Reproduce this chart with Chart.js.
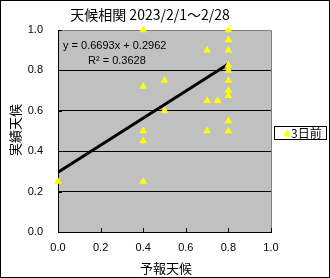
<!DOCTYPE html>
<html>
<head>
<meta charset="utf-8">
<script src="https://cdn.jsdelivr.net/npm/chart.js@4"></script>
<style>
  html, body { margin: 0; padding: 0; background: #fff; }
  canvas { display: block; }
</style>
</head>
<body>
<canvas id="chart" width="330" height="278"></canvas>
<script>
// 予報天候 (x) と 実績天候 (y)
const forecast = [0.0, 0.4, 0.4, 0.4, 0.4, 0.4, 0.5, 0.5, 0.7, 0.7, 0.7, 0.75,
                  0.8, 0.8, 0.8, 0.8, 0.8, 0.8, 0.8, 0.8, 0.8, 0.8];
const actual   = [0.25, 1.0, 0.72, 0.5, 0.45, 0.25, 0.75, 0.6, 0.9, 0.65, 0.5, 0.65,
                  1.0, 0.95, 0.9, 0.825, 0.8, 0.75, 0.7, 0.675, 0.55, 0.5];
const seriesLabel = "3日前";
const slope = 0.6693;
const intercept = 0.2962;
const rSquared = 0.3628;
const trendRange = [0, 0.8];
const axisTicks = [0, 0.2, 0.4, 0.6, 0.8, 1.0];
const chartTitle = "天候相関 2023/2/1～2/28";
const xTitle = "予報天候";
const yTitle = "実績天候";

const points = forecast.map((x, i) => ({ x: x, y: actual[i] }));
const trend = trendRange.map(x => ({ x: x, y: slope * x + intercept }));

const jp = '"Noto Sans CJK JP", sans-serif';
const num = '"Liberation Sans", Arial, sans-serif';

const decor = {
  id: "decor",
  beforeDraw(c) {
    const ctx = c.ctx, a = c.chartArea;
    ctx.save();
    ctx.fillStyle = "#fff";
    ctx.fillRect(0, 0, c.width, c.height);
    ctx.fillStyle = "#c0c0c0";
    ctx.fillRect(a.left, a.top, a.right - a.left, a.bottom - a.top);
    ctx.restore();
  },
  beforeDatasetsDraw(c) {
    const ctx = c.ctx, a = c.chartArea;
    ctx.save();
    // plot frame top/right
    ctx.strokeStyle = "#808080";
    ctx.lineWidth = 1;
    ctx.beginPath();
    ctx.moveTo(a.left, a.top + 0.5);
    ctx.lineTo(a.right + 0.5, a.top + 0.5);
    ctx.lineTo(a.right + 0.5, a.bottom);
    ctx.stroke();
    // inner tick marks
    ctx.strokeStyle = "#000";
    ctx.beginPath();
    axisTicks.forEach(v => {
      const px = Math.round(c.scales.x.getPixelForValue(v)) + 0.5;
      ctx.moveTo(px, a.bottom);
      ctx.lineTo(px, a.bottom - 4);
      const py = Math.round(c.scales.y.getPixelForValue(v)) + 0.5;
      ctx.moveTo(a.left, py);
      ctx.lineTo(a.left + 4, py);
    });
    ctx.stroke();
    ctx.restore();
  },
  afterDatasetsDraw(c) {
    const ctx = c.ctx;
    ctx.save();
    // equation text
    ctx.fillStyle = "#000";
    ctx.font = "11px " + num;
    ctx.textBaseline = "middle";
    ctx.textAlign = "left";
    ctx.fillText("y = " + slope.toFixed(4) + "x + " + intercept.toFixed(4), 63, 46);
    ctx.fillText("R² = " + rSquared.toFixed(4), 88, 61);

    // title
    ctx.font = "14px " + jp;
    ctx.textAlign = "center";
    ctx.fillText(chartTitle, 150, 15);
    // axis titles
    ctx.font = "13px " + jp;
    ctx.fillText(xTitle, 166, 268);
    ctx.translate(15, 130);
    ctx.rotate(-Math.PI / 2);
    ctx.fillText(yTitle, 0, 0);
    ctx.restore();

    // legend
    ctx.save();
    ctx.strokeStyle = "#000";
    ctx.lineWidth = 1;
    ctx.fillStyle = "#fff";
    ctx.fillRect(274.5, 126.5, 52, 13);
    ctx.strokeRect(274.5, 126.5, 52, 13);
    ctx.fillStyle = "#ffff00";
    ctx.beginPath();
    ctx.moveTo(287, 129.5);
    ctx.lineTo(291, 136.5);
    ctx.lineTo(283, 136.5);
    ctx.closePath();
    ctx.fill();
    ctx.fillStyle = "#000";
    ctx.font = "12px " + jp;
    ctx.textBaseline = "middle";
    ctx.textAlign = "left";
    ctx.fillText(seriesLabel, 291, 133.5);
    // outer border
    ctx.strokeRect(0.5, 0.5, c.width - 1, c.height - 1);
    ctx.restore();
  }
};

new Chart(document.getElementById("chart"), {
  type: "scatter",
  data: {
    datasets: [
      {
        label: seriesLabel,
        data: points,
        clip: false,
        pointStyle: "triangle",
        pointRadius: 4.5,
        pointBackgroundColor: "#ffff00",
        pointBorderColor: "#ffff00",
        pointBorderWidth: 0
      },
      {
        type: "line",
        label: "trend",
        data: trend,
        borderColor: "#000",
        borderWidth: 3,
        pointRadius: 0,
        fill: false
      }
    ]
  },
  options: {
    responsive: false,
    animation: false,
    devicePixelRatio: 1,
    layout: { padding: { left: 0, top: 30, right: 59, bottom: 0 } },
    plugins: { legend: { display: false }, tooltip: { enabled: false } },
    scales: {
      x: {
        type: "linear",
        min: 0, max: 1,
        afterFit: s => { s.height = 46; },
        afterBuildTicks: s => { s.ticks = axisTicks.map(v => ({ value: v })); },
        ticks: {
          color: "#000",
          padding: 9,
          font: { size: 11, family: num },
          callback: v => v.toFixed(1)
        },
        grid: { display: false, drawTicks: false },
        border: { color: "#000", width: 1 }
      },
      y: {
        min: 0, max: 1,
        afterFit: s => { s.width = 58; },
        afterBuildTicks: s => { s.ticks = axisTicks.map(v => ({ value: v })); },
        ticks: {
          color: "#000",
          padding: 15,
          font: { size: 11, family: num },
          callback: v => v.toFixed(1)
        },
        grid: {
          drawTicks: false,
          color: ctx => (ctx.tick && ctx.tick.value > 0 && ctx.tick.value < 1) ? "#000" : "rgba(0,0,0,0)",
          lineWidth: 1
        },
        border: { color: "#000", width: 1 }
      }
    }
  },
  plugins: [decor]
});
</script>
</body>
</html>
